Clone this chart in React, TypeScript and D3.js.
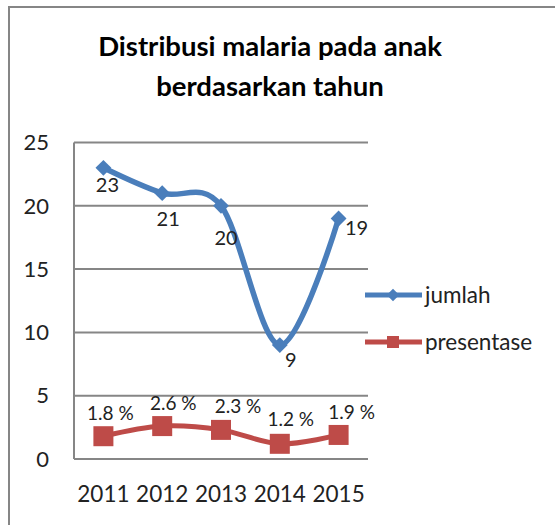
import React, { useEffect, useRef } from "react";
import * as d3 from "d3";

const years = ["2011", "2012", "2013", "2014", "2015"];
const jumlah = [23, 21, 20, 9, 19];
const presentase = [1.8, 2.6, 2.3, 1.2, 1.9];
const presentaseLabels = ["1.8 %", "2.6 %", "2.3 %", "1.2 %", "1.9 %"];
const yTicks = [0, 5, 10, 15, 20, 25];
const titleLines = ["Distribusi malaria pada anak", "berdasarkan tahun"];
const seriesNames = ["jumlah", "presentase"];

const WIDTH = 555;
const HEIGHT = 525;
const BLUE = "#4a7ebb";
const RED = "#be4b48";
const GRID = "#868686";
const FONT = "Lato, 'Liberation Sans', sans-serif";

// label nudges (dx, dy) relative to each point, like the excel output
const jumlahNudge = [
  [4, 17],
  [6, 26],
  [5, 32],
  [11, 15],
  [18, 10],
];
const presNudge = [
  [7, -23],
  [11, -23],
  [17, -24],
  [11, -24],
  [13, -23],
];

const App: React.FC = () => {
  const svgRef = useRef<SVGSVGElement>(null);

  useEffect(() => {
    const svg = d3.select(svgRef.current);
    svg.selectAll("*").remove();

    // outer chart border
    svg
      .append("rect")
      .attr("x", 9)
      .attr("y", 7)
      .attr("width", WIDTH + 20)
      .attr("height", HEIGHT + 20)
      .attr("fill", "white")
      .attr("stroke", GRID)
      .attr("stroke-width", 2);

    const title = svg
      .append("text")
      .attr("text-anchor", "middle")
      .attr("font-family", FONT)
      .attr("font-weight", "bold")
      .attr("font-size", 27.5)
      .attr("fill", "#000");
    titleLines.forEach((t, i) => {
      title
        .append("tspan")
        .attr("x", 270)
        .attr("y", 56 + i * 40)
        .text(t);
    });

    const x = d3.scaleBand().domain(years).range([74, 368]);
    const y = d3.scaleLinear().domain([0, 25]).range([459, 142.5]);
    const cx = (d: string) => (x(d) ?? 0) + x.bandwidth() / 2;

    // gridlines
    svg
      .append("g")
      .selectAll("line")
      .data(yTicks)
      .join("line")
      .attr("x1", 74)
      .attr("x2", 368)
      .attr("y1", (d) => y(d))
      .attr("y2", (d) => y(d))
      .attr("stroke", GRID)
      .attr("stroke-width", 2);

    svg
      .append("line")
      .attr("x1", 74)
      .attr("x2", 74)
      .attr("y1", y(25))
      .attr("y2", y(0))
      .attr("stroke", GRID)
      .attr("stroke-width", 2);

    // y tick labels
    svg
      .append("g")
      .selectAll("text")
      .data(yTicks)
      .join("text")
      .attr("x", 49)
      .attr("y", (d) => y(d))
      .attr("dy", "0.35em")
      .attr("text-anchor", "end")
      .attr("font-family", FONT)
      .attr("font-size", 22)
      .attr("fill", "#222")
      .text((d) => d);

    // x tick labels
    svg
      .append("g")
      .selectAll("text")
      .data(years)
      .join("text")
      .attr("x", (d) => cx(d))
      .attr("y", 502)
      .attr("text-anchor", "middle")
      .attr("font-family", FONT)
      .attr("font-size", 22.5)
      .attr("fill", "#222")
      .text((d) => d);

    const line = d3
      .line<number>()
      .x((_, i) => cx(years[i]))
      .y((d) => y(d))
      .curve(d3.curveCardinal.tension(0));

    // jumlah
    svg
      .append("path")
      .datum(jumlah)
      .attr("d", line)
      .attr("fill", "none")
      .attr("stroke", BLUE)
      .attr("stroke-width", 5.5)
      .attr("stroke-linejoin", "round");

    const diamond = d3.symbol().type(d3.symbolDiamond2).size(160);
    svg
      .append("g")
      .selectAll("path")
      .data(jumlah)
      .join("path")
      .attr("d", diamond)
      .attr("transform", (d, i) => `translate(${cx(years[i])},${y(d)})`)
      .attr("fill", BLUE);

    svg
      .append("g")
      .selectAll("text")
      .data(jumlah)
      .join("text")
      .attr("x", (d, i) => cx(years[i]) + jumlahNudge[i][0])
      .attr("y", (d, i) => y(d) + jumlahNudge[i][1])
      .attr("dy", "0.35em")
      .attr("text-anchor", "middle")
      .attr("font-family", FONT)
      .attr("font-size", 20)
      .attr("fill", "#222")
      .text((d) => d);

    // presentase
    svg
      .append("path")
      .datum(presentase)
      .attr("d", line)
      .attr("fill", "none")
      .attr("stroke", RED)
      .attr("stroke-width", 5)
      .attr("stroke-linejoin", "round");

    svg
      .append("g")
      .selectAll("rect")
      .data(presentase)
      .join("rect")
      .attr("x", (d, i) => cx(years[i]) - 10)
      .attr("y", (d) => y(d) - 10)
      .attr("width", 20)
      .attr("height", 20)
      .attr("fill", RED);

    svg
      .append("g")
      .selectAll("text")
      .data(presentase)
      .join("text")
      .attr("x", (d, i) => cx(years[i]) + presNudge[i][0])
      .attr("y", (d, i) => y(d) + presNudge[i][1])
      .attr("dy", "0.35em")
      .attr("text-anchor", "middle")
      .attr("font-family", FONT)
      .attr("font-size", 19)
      .attr("fill", "#222")
      .text((d, i) => presentaseLabels[i]);

    // legend
    const legend = svg.append("g");
    seriesNames.forEach((name, i) => {
      const ly = 295 + i * 47;
      const color = i === 0 ? BLUE : RED;
      legend
        .append("line")
        .attr("x1", 365)
        .attr("x2", 422)
        .attr("y1", ly)
        .attr("y2", ly)
        .attr("stroke", color)
        .attr("stroke-width", 5);
      if (i === 0) {
        legend
          .append("path")
          .attr("d", d3.symbol().type(d3.symbolDiamond2).size(100)())
          .attr("transform", `translate(393,${ly})`)
          .attr("fill", color);
      } else {
        legend
          .append("rect")
          .attr("x", 387)
          .attr("y", ly - 6)
          .attr("width", 12)
          .attr("height", 12)
          .attr("fill", color);
      }
      legend
        .append("text")
        .attr("x", 425)
        .attr("y", ly)
        .attr("dy", "0.35em")
        .attr("font-family", FONT)
        .attr("font-size", 22.5)
        .attr("fill", "#222")
        .text(name);
    });
  }, []);

  return (
    <div style={{ position: "fixed", left: 0, top: 0 }}>
      <svg ref={svgRef} width={WIDTH} height={HEIGHT} style={{ display: "block" }} />
    </div>
  );
};

export default App;
